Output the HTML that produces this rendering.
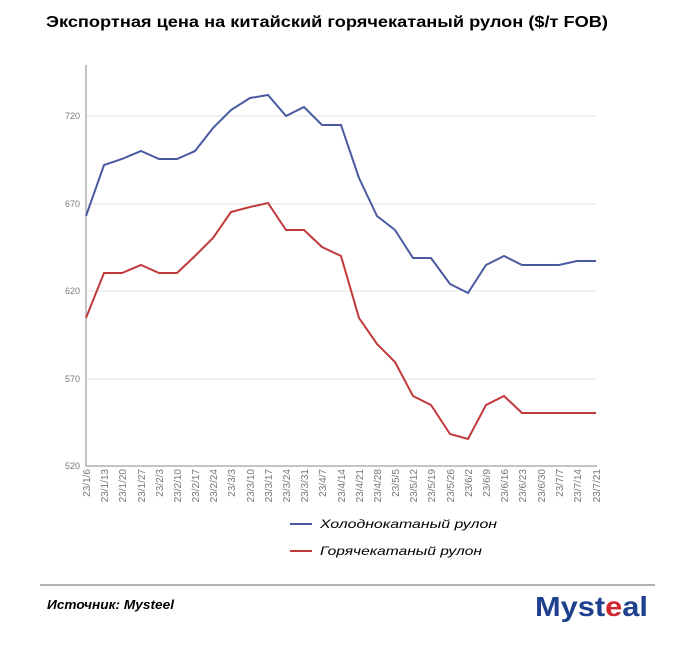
<!DOCTYPE html><html><head><meta charset="utf-8"><style>body{margin:0;background:#fff;width:674px;height:642px;overflow:hidden;font-family:"Liberation Sans",sans-serif}</style></head><body>
<svg width="674" height="642" xmlns="http://www.w3.org/2000/svg" font-family="Liberation Sans, sans-serif">
<text x="46" y="27" font-size="16" font-weight="bold" fill="#000" textLength="562" lengthAdjust="spacingAndGlyphs">Экспортная цена на китайский горячекатаный рулон ($/т FOB)</text>
<g stroke="#e2e2e2" stroke-width="1"><line x1="86" x2="596" y1="116" y2="116"/><line x1="86" x2="596" y1="204" y2="204"/><line x1="86" x2="596" y1="291" y2="291"/><line x1="86" x2="596" y1="379" y2="379"/></g>
<line x1="86" y1="65" x2="86" y2="466" stroke="#888"/>
<line x1="86" y1="466" x2="597" y2="466" stroke="#888"/>
<g font-size="9" fill="#777" text-anchor="end"><text x="80" y="119">720</text><text x="80" y="207">670</text><text x="80" y="294">620</text><text x="80" y="382">570</text><text x="80" y="469">520</text></g>
<g font-size="10" fill="#777" text-anchor="end">
<text transform="translate(90,469) rotate(-90)">23/1/6</text>
<text transform="translate(108,469) rotate(-90)">23/1/13</text>
<text transform="translate(126,469) rotate(-90)">23/1/20</text>
<text transform="translate(145,469) rotate(-90)">23/1/27</text>
<text transform="translate(163,469) rotate(-90)">23/2/3</text>
<text transform="translate(181,469) rotate(-90)">23/2/10</text>
<text transform="translate(199,469) rotate(-90)">23/2/17</text>
<text transform="translate(217,469) rotate(-90)">23/2/24</text>
<text transform="translate(235,469) rotate(-90)">23/3/3</text>
<text transform="translate(254,469) rotate(-90)">23/3/10</text>
<text transform="translate(272,469) rotate(-90)">23/3/17</text>
<text transform="translate(290,469) rotate(-90)">23/3/24</text>
<text transform="translate(308,469) rotate(-90)">23/3/31</text>
<text transform="translate(326,469) rotate(-90)">23/4/7</text>
<text transform="translate(345,469) rotate(-90)">23/4/14</text>
<text transform="translate(363,469) rotate(-90)">23/4/21</text>
<text transform="translate(381,469) rotate(-90)">23/4/28</text>
<text transform="translate(399,469) rotate(-90)">23/5/5</text>
<text transform="translate(417,469) rotate(-90)">23/5/12</text>
<text transform="translate(435,469) rotate(-90)">23/5/19</text>
<text transform="translate(454,469) rotate(-90)">23/5/26</text>
<text transform="translate(472,469) rotate(-90)">23/6/2</text>
<text transform="translate(490,469) rotate(-90)">23/6/9</text>
<text transform="translate(508,469) rotate(-90)">23/6/16</text>
<text transform="translate(526,469) rotate(-90)">23/6/23</text>
<text transform="translate(545,469) rotate(-90)">23/6/30</text>
<text transform="translate(563,469) rotate(-90)">23/7/7</text>
<text transform="translate(581,469) rotate(-90)">23/7/14</text>
<text transform="translate(600,469) rotate(-90)">23/7/21</text>
</g>
<polyline fill="none" stroke="#4a5aa0" stroke-width="2" points="86,216 104,165 122,159 141,151 159,159 177,159 195,151 213,128 231,110 250,98 268,95 286,116 304,107 322,125 341,125 359,178 377,216 395,230 413,258 431,258 450,284 468,293 486,265 504,256 522,265 541,265 559,265 577,261 596,261"/>
<polyline fill="none" stroke="#c0393b" stroke-width="2" points="86,318 104,273 122,273 141,265 159,273 177,273 195,256 213,238 231,212 250,207 268,203 286,230 304,230 322,247 341,256 359,318 377,344 395,362 413,396 431,405 450,434 468,439 486,405 504,396 522,413 541,413 559,413 577,413 596,413"/>
<line x1="290" y1="524" x2="312" y2="524" stroke="#4a5aa0" stroke-width="2"/>
<line x1="290" y1="551" x2="312" y2="551" stroke="#c0393b" stroke-width="2"/>
<g font-size="12" font-style="italic" fill="#000"><text x="320" y="528" textLength="177" lengthAdjust="spacingAndGlyphs">Холоднокатаный рулон</text><text x="320" y="555" textLength="162" lengthAdjust="spacingAndGlyphs">Горячекатаный рулон</text></g>
<line x1="40" y1="585" x2="655" y2="585" stroke="#999" stroke-width="1.5"/>
<text x="47" y="609" font-size="12.5" font-weight="bold" font-style="italic" textLength="127" lengthAdjust="spacingAndGlyphs">Источник: Mysteel</text>
<text x="535" y="616" font-size="28" font-weight="bold" fill="#1f3f8f" textLength="113" lengthAdjust="spacingAndGlyphs">Myst<tspan fill="#d0262e">e</tspan>al</text>
</svg></body></html>
